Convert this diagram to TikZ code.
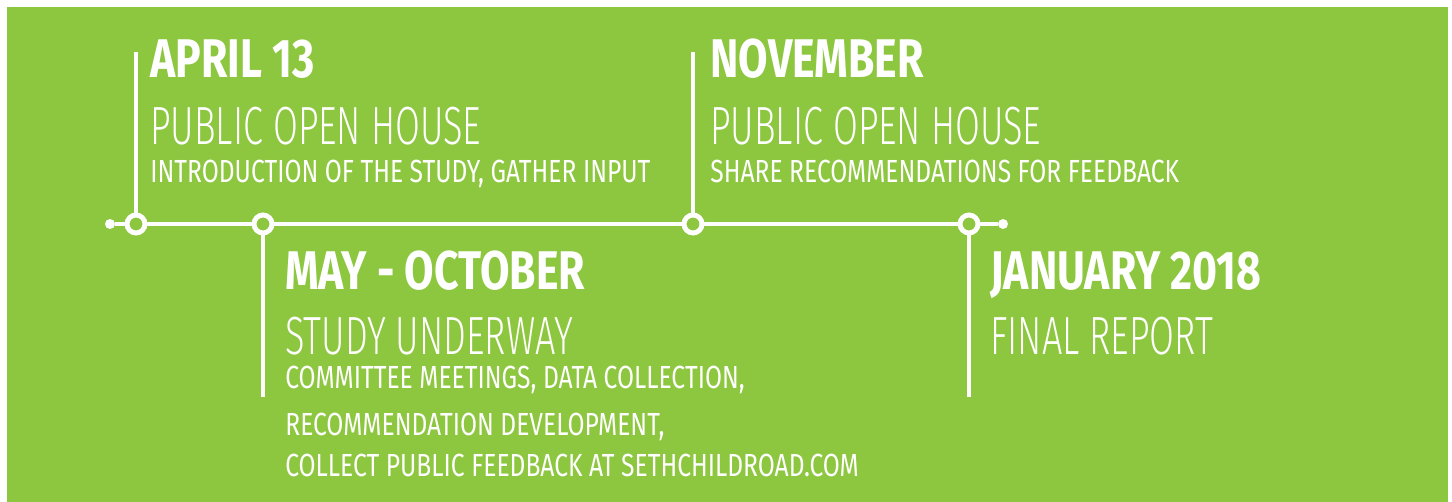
\documentclass[tikz,border=0pt]{standalone}
\usepackage{fontspec}
\setmainfont{Fira Sans}
\newfontfamily\headfont[FakeStretch=0.785]{Fira Sans Bold}
\newfontfamily\lightfont[FakeStretch=0.67]{Fira Sans Light}
\newfontfamily\notefont[FakeStretch=0.77]{Fira Sans}
\definecolor{leaf}{RGB}{141,198,63}

\begin{document}
\begin{tikzpicture}[x=0.02cm, y=-0.02cm,
  bar/.style={white, line width=2.8pt},
  stopring/.style={circle, draw=white, line width=2.8pt, minimum size=0.36cm, inner sep=0pt},
  enddot/.style={circle, fill=white, minimum size=0.2cm, inner sep=0pt},
  head/.style={white, anchor=base west, inner sep=0pt, font=\headfont\fontsize{31}{31}\selectfont},
  what/.style={white, anchor=base west, inner sep=0pt, font=\lightfont\fontsize{30.6}{30.6}\selectfont},
  note/.style={white, anchor=base west, inner sep=0pt, font=\notefont\fontsize{18.2}{18.2}\selectfont}]

\fill[white] (0,0) rectangle (1452,502);
\useasboundingbox (0,0) rectangle (1452,502);
\fill[leaf] (7,7) rectangle (1448,502); %panel

% timeline
\node[enddot] (dl) at (110,224) {};
\node[stopring] (apr) at (136,224) {};
\node[stopring] (may) at (263,224) {};
\node[stopring] (nov) at (693,224) {};
\node[stopring] (jan) at (969,224) {};
\node[enddot] (dr) at (1003,224) {};
\draw[bar] (dl) -- (apr) -- (may) -- (nov) -- (jan) -- (dr);

\coordinate (aprtop) at (136,52);
\coordinate (novtop) at (693,52);
\coordinate (maybot) at (263,397);
\coordinate (janbot) at (969,397);
\draw[bar] (apr) -- (aprtop);
\draw[bar] (nov) -- (novtop);
\draw[bar] (may) -- (maybot);
\draw[bar] (jan) -- (janbot);

% april
\node[head] (aprdate) at (150,78) {APRIL 13};
\node[what] (aprwhat) at (150,145) {PUBLIC OPEN HOUSE};
\node[note] (aprnote) at (150,183) {INTRODUCTION OF THE STUDY, GATHER INPUT};

% november
\node[head] (novdate) at (710,78) {NOVEMBER};
\node[what] (novwhat) at (710,145) {PUBLIC OPEN HOUSE};
\node[note] (novnote) at (710,183) {SHARE RECOMMENDATIONS FOR FEEDBACK};

% may - october
\node[head] (maydate) at (285,290) {MAY - OCTOBER};
\node[what] (maywhat) at (285,355) {STUDY UNDERWAY};
\node[note] (maynote1) at (285,389) {COMMITTEE MEETINGS, DATA COLLECTION,};
\node[note] (maynote2) at (285,436) {RECOMMENDATION DEVELOPMENT,};
\node[note] (maynote3) at (285,477) {COLLECT PUBLIC FEEDBACK AT SETHCHILDROAD.COM};

% january
\node[head] (jandate) at (990,290) {JANUARY 2018};
\node[what] (janwhat) at (990,355) {FINAL REPORT};

\end{tikzpicture}
\end{document}
